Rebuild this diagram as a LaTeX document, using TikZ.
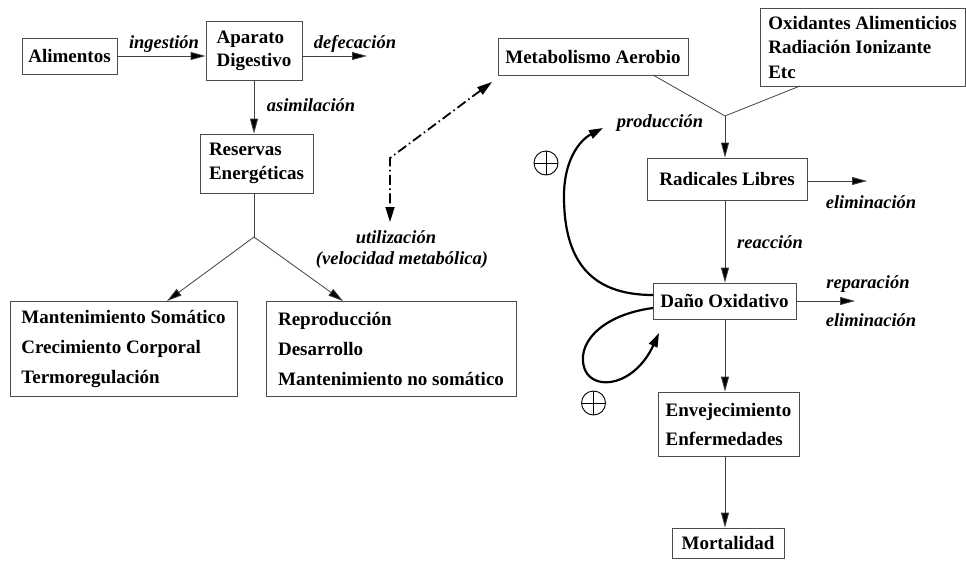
\documentclass[tikz,border=0pt]{standalone}
\usepackage{fontspec}
\setmainfont{Liberation Serif}
\usetikzlibrary{arrows.meta}
\begin{document}
\begin{tikzpicture}[x=1pt,y=-1pt,
  box/.style={draw=black!70, line width=0.8pt, rectangle, inner sep=0pt, align=left, font=\fontsize{19}{24}\selectfont\bfseries},
  lbl/.style={inner sep=0pt, font=\fontsize{18.5}{22}\selectfont\bfseries\itshape},
  conn/.style={draw=black!75, line width=0.8pt, -{Triangle[length=15pt,width=8pt,fill=black]}},
  plainline/.style={draw=black!75, line width=0.8pt},
  loopline/.style={line width=2.2pt, -{Triangle[length=14pt,width=9pt]}},
  dashdotline/.style={line width=1.8pt, dash pattern=on 10pt off 3.5pt on 1.5pt off 3.5pt, {Triangle[length=15pt,width=9pt]}-{Triangle[length=15pt,width=9pt]}},
  oplus/.style={circle, draw, line width=0.9pt, minimum size=24pt, inner sep=0pt,
    path picture={\draw[line width=0.9pt] (path picture bounding box.north) -- (path picture bounding box.south) (path picture bounding box.west) -- (path picture bounding box.east);}},
]
\path[use as bounding box] (0,0) rectangle (966,560);

% boxes left
\node[box, minimum width=95pt, minimum height=36pt] (alim) at (69.5,56) {Alimentos};
\node[box, minimum width=96pt, minimum height=59pt, font=\fontsize{19}{23}\selectfont\bfseries] (apar) at (254,50.5) {Aparato\\Digestivo};
\node[box, minimum width=113pt, minimum height=59pt] (res) at (256.5,163.5) {Reservas\\Energéticas};
\node[box, minimum width=227pt, minimum height=95pt, font=\fontsize{19}{30}\selectfont\bfseries] (somat) at (123.5,348.5) {Mantenimiento Somático\\Crecimiento Corporal\\Termoregulación};
\node[box, minimum width=250pt, minimum height=95pt, font=\fontsize{19}{30}\selectfont\bfseries] (repro) at (391,348.5) {Reproducción\\Desarrollo\\Mantenimiento no somático};

% boxes right
\node[box, minimum width=190pt, minimum height=37pt] (meta) at (593,56.5) {Metabolismo Aerobio};
\node[box, minimum width=205pt, minimum height=78pt, font=\fontsize{19}{24.5}\selectfont\bfseries] (oxi) at (862.5,47) {Oxidantes Alimenticios\\Radiación Ionizante\\Etc};
\node[box, minimum width=160pt, minimum height=42pt] (rad) at (727,179) {Radicales Libres};
\node[box, minimum width=143pt, minimum height=36pt] (dano) at (724.5,301) {Daño Oxidativo};
\node[box, minimum width=141pt, minimum height=64pt, font=\fontsize{19}{29}\selectfont\bfseries] (env) at (728.5,424) {Envejecimiento\\Enfermedades};
\node[box, minimum width=112pt, minimum height=30pt] (mort) at (728,543) {Mortalidad};

% coordinates
\coordinate (defend) at (367,56);
\coordinate (split) at (254,237);
\coordinate (lefttip) at (167,301);
\coordinate (righttip) at (343,301);
\coordinate (uA) at (492,82);
\coordinate (uC) at (390,158);
\coordinate (uB) at (390,222);
\coordinate (metaout) at (653,75);
\coordinate (oxiout) at (800,86);
\coordinate (join) at (725,116);
\coordinate (radelim) at (867,181);
\coordinate (danoelim) at (855,301);
\coordinate (bigstart) at (653,295);
\coordinate (bigend) at (603,128);
\coordinate (smallstart) at (653,308);
\coordinate (smallend) at (659,333);

% left connectors
\draw[conn] (alim.east) -- (alim.east -| apar.west);
\draw[conn] (apar.east |- defend) -- (defend);
\draw[conn] (apar.south) -- (apar.south |- res.north);
\draw[plainline] (res.south -| split) -- (split);
\draw[conn] (split) -- (lefttip);
\draw[conn] (split) -- (righttip);

\node[lbl] (ling) at (164,44) {ingestión};
\node[lbl] (ldef) at (355,44) {defecación};
\node[lbl] (lasi) at (311,105) {asimilación};

% dash-dot
\draw[dashdotline] (uA) -- (uC) -- (uB);
\node[lbl] (lut) at (396,237) {utilización};
\node[lbl] (lvel) at (402,260) {(velocidad metabólica)};

% right connectors
\draw[plainline] (metaout) -- (join) -- (oxiout);
\draw[conn] (join) -- (join |- rad.north);
\node[lbl] (lprod) at (660,123) {producción};
\draw[conn] (rad.east |- radelim) -- (radelim);
\node[lbl] (lelim1) at (871,202) {eliminación};
\draw[conn] (join |- rad.south) -- (join |- dano.north);
\node[lbl] (lreac) at (770,242) {reacción};
\draw[conn] (dano.east) -- (danoelim);
\node[lbl] (lrep) at (868,284) {reparación};
\node[lbl] (lelim2) at (871,320) {eliminación};
\draw[conn] (join |- dano.south) -- (join |- env.north);
\draw[conn] (join |- env.south) -- (join |- mort.north);

% feedback loops
\draw[loopline] (bigstart) .. controls (590,295) and (565,260) .. (564,200) .. controls (563,160) and (580,140) .. (bigend);
\draw[loopline] (smallstart) .. controls (600,315) and (575,345) .. (585,370) .. controls (595,392) and (635,385) .. (smallend);
\node[oplus] (plus1) at (546,163) {};
\node[oplus] (plus2) at (593.5,403) {};
\end{tikzpicture}
\end{document}
